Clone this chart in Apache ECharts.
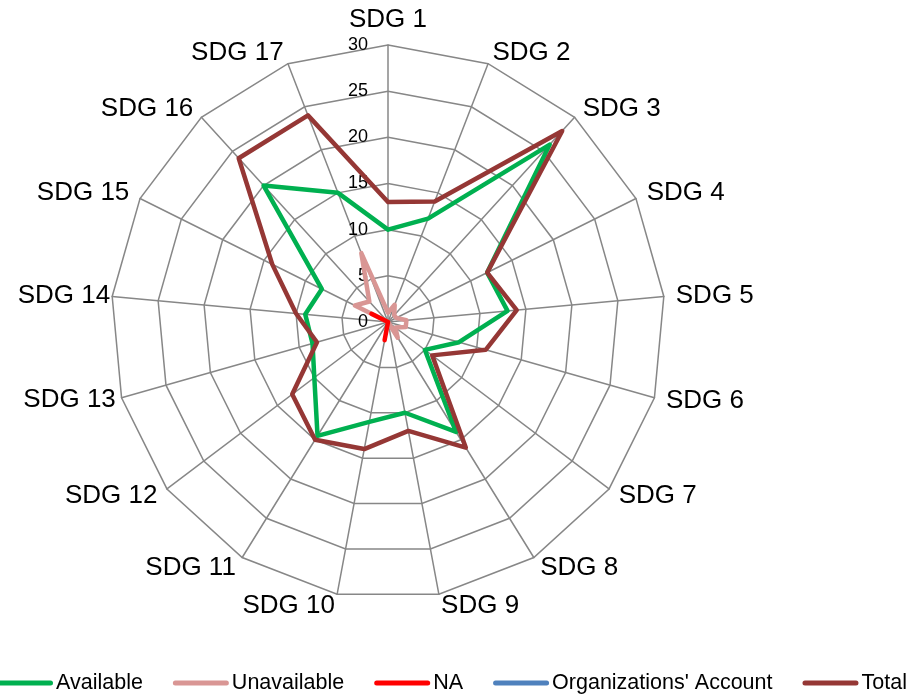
<!DOCTYPE html>
<html>
<head>
<meta charset="utf-8">
<script src="https://cdn.jsdelivr.net/npm/echarts@6/dist/echarts.min.js"></script>
<style>
  html, body { margin: 0; padding: 0; background: #ffffff; }
  #chart { width: 911px; height: 698px; }
</style>
</head>
<body>
<div id="chart"></div>
<script>
// Indicator counts per Sustainable Development Goal
const goals = ['SDG 1', 'SDG 2', 'SDG 3', 'SDG 4', 'SDG 5', 'SDG 6', 'SDG 7', 'SDG 8', 'SDG 9',
               'SDG 10', 'SDG 11', 'SDG 12', 'SDG 13', 'SDG 14', 'SDG 15', 'SDG 16', 'SDG 17'];
const available     = [10, 12, 26, 12, 13, 8, 5, 14, 10, 11, 14.5, 10, 8.5, 9, 8, 20, 15];
const unavailable   = [1, 2, 1, 1, 2, 2, 1, 2, 0, 0, 0, 0, 0, 0, 4, 3, 8];
const notApplicable = [0, 0, 0, 0, 0, 0, 0, 0, 0, 2, 0, 0, 0, 0, 2, 0, 0];
const orgAccount    = [0, 0, 0, 0, 0, 0, 0, 0, 0, 0, 0, 0, 0, 0, 0, 0, 0];
const total         = [13, 14, 28, 12, 14, 11, 6, 16, 12, 14, 15, 13, 8, 10, 14, 24, 24];
const ringTicks = ['0', '5', '10', '15', '20', '25', '30'];
const ringMax = 30;

const seriesDefs = [
  { name: 'Available', values: available, color: '#00B050' },
  { name: 'Unavailable', values: unavailable, color: '#D99694' },
  { name: 'NA', values: notApplicable, color: '#FF0000' },
  { name: "Organizations' Account", values: orgAccount, color: '#4F81BD' },
  { name: 'Total', values: total, color: '#953735' }
];

// Names on the far left sit tighter against the outer ring.
const nameGapOverride = { 'SDG 13': 6, 'SDG 14': 2 };

// ECharts lays radar axes counter-clockwise; walk the goals so they run clockwise.
const order = [0];
for (let i = goals.length - 1; i >= 1; i--) order.push(i);

const font = 'Liberation Sans, Arial, sans-serif';
const gridGray = '#878787';
const indicator = order.map(function (i, k) {
  const ind = { name: goals[i], max: ringMax, min: 0 };
  if (nameGapOverride[goals[i]] !== undefined) ind.nameGap = nameGapOverride[goals[i]];
  if (k === 0) {
    ind.axisLabel = {
      show: true,
      color: '#000',
      fontFamily: font,
      fontSize: 18,
      margin: 20,
      formatter: function (v) { return ringTicks[Math.round(v / 5)]; }
    };
  }
  return ind;
});

const chart = echarts.init(document.getElementById('chart'), null, { renderer: 'canvas' });
chart.setOption({
  animation: false,
  backgroundColor: '#ffffff',
  legend: {
    left: -3,
    bottom: 4,
    width: 980,
    padding: 0,
    itemWidth: 56,
    itemHeight: 5,
    itemGap: 30,
    icon: 'path://M2.5,0 H53.5 A2.5,2.5 0 0 1 53.5,5 H2.5 A2.5,2.5 0 0 1 2.5,0 Z',
    textStyle: { color: '#000', fontFamily: font, fontSize: 21.5, padding: [0, 0, 0, -2] },
    data: seriesDefs.map(function (s) { return s.name; })
  },
  radar: {
    center: [388, 322],
    radius: 277,
    startAngle: 90,
    splitNumber: 6,
    shape: 'polygon',
    nameGap: 12,
    axisName: { color: '#000', fontFamily: font, fontSize: 26 },
    axisLine: { show: true, lineStyle: { color: gridGray, width: 1.5 } },
    splitLine: { show: true, lineStyle: { color: gridGray, width: 1.5 } },
    splitArea: { show: false },
    axisTick: { show: false },
    axisLabel: { show: false },
    indicator: indicator
  },
  series: seriesDefs.map(function (s) {
    return {
      type: 'radar',
      name: s.name,
      symbol: 'none',
      silent: true,
      color: s.color,
      itemStyle: { color: s.color },
      lineStyle: { color: s.color, width: 4.5, join: 'round', cap: 'round' },
      data: [{ name: s.name, value: order.map(function (i) { return s.values[i]; }) }]
    };
  })
});
</script>
</body>
</html>
